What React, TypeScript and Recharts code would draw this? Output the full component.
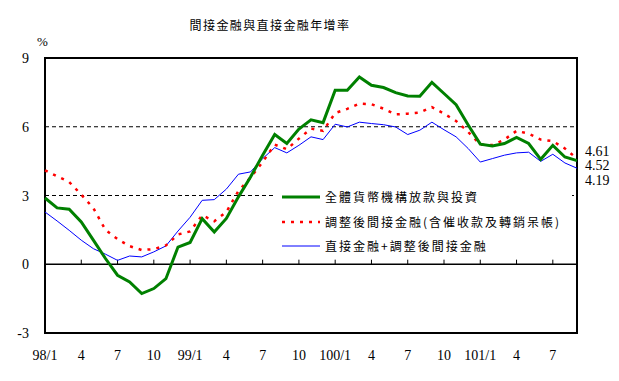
import React from 'react';
import { LineChart, Line, XAxis, YAxis, ReferenceLine, ReferenceArea, Legend } from 'recharts';

const months = [
  '98/1', '98/2', '98/3', '98/4', '98/5', '98/6', '98/7', '98/8', '98/9', '98/10', '98/11', '98/12',
  '99/1', '99/2', '99/3', '99/4', '99/5', '99/6', '99/7', '99/8', '99/9', '99/10', '99/11', '99/12',
  '100/1', '100/2', '100/3', '100/4', '100/5', '100/6', '100/7', '100/8', '100/9', '100/10', '100/11', '100/12',
  '101/1', '101/2', '101/3', '101/4', '101/5', '101/6', '101/7', '101/8', '101/9',
];

const tickMonths = ['98/1', '98/4', '98/7', '98/10', '99/1', '99/4', '99/7', '99/10', '100/1', '100/4', '100/7', '100/10', '101/1', '101/4', '101/7'];
const tickLabels = ['98/1', '4', '7', '10', '99/1', '4', '7', '10', '100/1', '4', '7', '10', '101/1', '4', '7'];

const loansInvestments = [
  2.89, 2.46, 2.40, 1.85, 1.05, 0.25, -0.48, -0.77, -1.28, -1.06,
  -0.63, 0.75, 0.95, 1.99, 1.41, 2.0, 2.94, 3.81, 4.76, 5.66,
  5.27, 5.9, 6.3, 6.18, 7.59, 7.59, 8.17, 7.81, 7.71, 7.49,
  7.34, 7.33, 7.94, 7.45, 6.96, 6.08, 5.24, 5.16, 5.27, 5.53,
  5.27, 4.58, 5.19, 4.68, 4.52,
];

const adjustedIndirect = [
  4.10, 3.84, 3.59, 3.04, 2.45, 1.5, 1.1, 0.79, 0.62, 0.66,
  0.82, 1.3, 1.43, 2.14, 1.88, 2.28, 3.2, 3.78, 4.46, 5.22,
  5.02, 5.48, 5.92, 5.82, 6.6, 6.78, 7.01, 6.98, 6.79, 6.54,
  6.57, 6.62, 6.86, 6.57, 6.25, 5.77, 5.22, 5.2, 5.44, 5.82,
  5.70, 5.44, 5.37, 5.05, 4.61,
];

const directPlusIndirect = [
  2.28, 1.89, 1.48, 1.05, 0.68, 0.44, 0.17, 0.36, 0.32, 0.54,
  0.8, 1.45, 2.05, 2.79, 2.82, 3.28, 3.93, 4.03, 4.61, 5.09,
  4.86, 5.19, 5.56, 5.44, 6.11, 5.99, 6.2, 6.14, 6.09, 5.99,
  5.66, 5.85, 6.2, 5.87, 5.56, 5.05, 4.46, 4.61, 4.76, 4.86,
  4.89, 4.49, 4.80, 4.42, 4.19,
];

const seriesNames = ['全體貨幣機構放款與投資', '調整後間接金融(含催收款及轉銷呆帳)', '直接金融+調整後間接金融'];
const seriesColors = ['#008000', '#ff0000', '#0000ff'];
const seriesWidths = [3, 2.5, 1];
const seriesDash = [undefined, '3 6', undefined];

const endLabels = ['4.61', '4.52', '4.19'];
const yTicks = [-3, 0, 3, 6, 9];
const gridValues = [3, 6];
const titleText = '間接金融與直接金融年增率';

const data = months.map((m, i) => ({
  month: m,
  a: loansInvestments[i],
  b: adjustedIndirect[i],
  c: directPlusIndirect[i],
}));

const serif = '"Liberation Serif", "Times New Roman", serif';
const cjk = '"Noto Sans CJK TC", "Noto Sans CJK SC", sans-serif';

const XTick = (props: any) => {
  const { x, y, payload } = props;
  const idx = tickMonths.indexOf(payload.value);
  return (
    <text x={x} y={y + 27} textAnchor="middle" fontFamily={serif} fontSize={14} fill="#000">
      {idx >= 0 ? tickLabels[idx] : ''}
    </text>
  );
};

const YTick = (props: any) => {
  const { y, payload } = props;
  return (
    <text x={29} y={y + 5} textAnchor="end" fontFamily={serif} fontSize={14} fill="#000">
      {payload.value}
    </text>
  );
};

const LegendContent = () => (
  <div style={{ background: '#fff', width: 297, height: 72, position: 'relative' }}>
    {seriesNames.map((name, i) => (
      <div
        key={name}
        style={{ position: 'absolute', left: 0, top: 6 + i * 24.6, height: 14, display: 'flex', alignItems: 'center', whiteSpace: 'nowrap' }}
      >
        <svg width={50} height={14} style={{ display: 'block' }}>
          <line x1={7} x2={45} y1={7} y2={7} stroke={seriesColors[i]} strokeWidth={seriesWidths[i]} strokeDasharray={seriesDash[i]} />
        </svg>
        <span style={{ fontFamily: cjk, fontSize: 12, letterSpacing: 2, lineHeight: '14px', color: '#000' }}>{name}</span>
      </div>
    ))}
  </div>
);

export default function App() {
  return (
    <div style={{ position: 'absolute', left: 0, top: 0, width: 619, height: 381, background: '#fff' }}>
      <LineChart width={619} height={381} data={data} margin={{ top: 58, right: 42, bottom: 18, left: 15 }}>
        <XAxis
          dataKey="month"
          ticks={tickMonths}
          interval={0}
          axisLine={false}
          tickLine={false}
          tickSize={0}
          tickMargin={0}
          height={30}
          tick={<XTick />}
        />
        <YAxis
          domain={[-3, 9]}
          ticks={yTicks}
          width={30}
          axisLine={false}
          tickLine={false}
          tickSize={0}
          tickMargin={16}
          tick={<YTick />}
        />
        {gridValues.map((v) => (
          <ReferenceLine key={v} y={v} stroke="#000" strokeWidth={1} strokeDasharray="4 3" />
        ))}
        <ReferenceLine y={0} stroke="#000" strokeWidth={1.5} />
        {tickMonths.slice(1).map((m) => (
          <ReferenceLine key={m} segment={[{ x: m, y: 0 }, { x: m, y: 0.2 }]} stroke="#000" strokeWidth={1} />
        ))}
        <ReferenceArea x1={months[0]} x2={months[months.length - 1]} y1={-3} y2={9} fill="none" stroke="#000" strokeWidth={2} />
        <Legend
          layout="vertical"
          align="center"
          verticalAlign="middle"
          content={<LegendContent />}
          wrapperStyle={{ left: 275, top: 184, width: 297, height: 72 }}
        />
        <Line type="linear" dataKey="c" name={seriesNames[2]} stroke={seriesColors[2]} strokeWidth={seriesWidths[2]} dot={false} isAnimationActive={false} />
        <Line type="linear" dataKey="b" name={seriesNames[1]} stroke={seriesColors[1]} strokeWidth={seriesWidths[1]} strokeDasharray={seriesDash[1]} dot={false} isAnimationActive={false} />
        <Line type="linear" dataKey="a" name={seriesNames[0]} stroke={seriesColors[0]} strokeWidth={seriesWidths[0]} dot={false} isAnimationActive={false} />
      </LineChart>
      <svg width={619} height={381} style={{ position: 'absolute', left: 0, top: 0, pointerEvents: 'none' }}>
        <text x={270} y={30} textAnchor="middle" fontFamily={cjk} fontSize={12} letterSpacing={1.4} fill="#000">
          {titleText}
        </text>
        <text x={42.5} y={46} textAnchor="middle" fontFamily={serif} fontSize={13} fill="#000">%</text>
        {endLabels.map((t, i) => (
          <text key={t} x={585} y={156 + i * 14.3} fontFamily={serif} fontSize={14} fill="#000">{t}</text>
        ))}
      </svg>
    </div>
  );
}
